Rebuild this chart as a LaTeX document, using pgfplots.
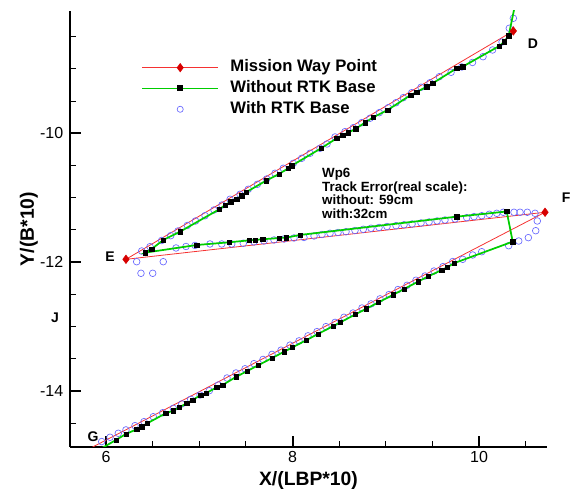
\documentclass[border=0pt]{standalone}
\usepackage{fontspec}
\setmainfont{Liberation Sans}
\usepackage{pgfplots}
\usepackage{pgfplotstable}
\pgfplotsset{compat=1.18}
\definecolor{wpred}{RGB}{215,0,0}
\definecolor{wpline}{RGB}{245,50,50}
\definecolor{trkgreen}{RGB}{0,205,0}
\definecolor{rtkblue}{RGB}{105,105,255}

% without RTK base (track, in path order)
\pgfplotstableread{
x      y
10.386 -8.009
10.318 -8.485
10.271 -8.578
10.218 -8.645
9.825  -8.966
9.761  -8.991
9.503  -9.224
9.439  -9.277
9.332  -9.359
9.268  -9.406
9.021  -9.638
8.866  -9.752
8.777  -9.835
8.678  -9.929
8.598  -9.991
8.538  -10.026
8.474  -10.078
8.306  -10.233
7.991  -10.503
7.955  -10.543
7.855  -10.632
7.716  -10.736
7.501  -10.916
7.455  -10.968
7.402  -11.020
7.337  -11.062
7.279  -11.113
7.215  -11.180
6.794  -11.527
6.614  -11.656
6.490  -11.796
6.418  -11.853
6.973  -11.734
7.322  -11.692
7.537  -11.661
7.598  -11.656
7.680  -11.645
7.861  -11.625
7.930  -11.620
8.080  -11.578
9.761  -11.294
10.297 -11.214
10.361 -11.682
9.732  -12.016
9.660  -12.080
9.600  -12.122
9.453  -12.223
9.346  -12.303
9.196  -12.417
9.078  -12.507
8.917  -12.628
8.788  -12.725
8.670  -12.814
8.509  -12.937
8.434  -12.994
8.273  -13.115
8.145  -13.213
7.995  -13.326
7.909  -13.391
7.780  -13.489
7.630  -13.602
7.512  -13.692
7.394  -13.781
7.251  -13.907
7.187  -13.942
7.072  -14.035
7.016  -14.062
6.930  -14.139
6.865  -14.191
6.786  -14.253
6.722  -14.305
6.640  -14.346
6.443  -14.501
6.383  -14.554
6.329  -14.594
6.214  -14.667
6.107  -14.760
5.936  -14.904
}\withoutrtk

% with RTK base
\pgfplotstableread{
x      y
6.383  -11.827
6.472  -11.760
6.597  -11.664
6.694  -11.589
6.772  -11.516
6.872  -11.431
6.960  -11.361
7.062  -11.279
7.158  -11.190
7.244  -11.113
7.330  -11.024
7.437  -10.947
7.526  -10.869
7.623  -10.792
7.723  -10.709
7.812  -10.621
7.901  -10.543
8.009  -10.466
8.099  -10.388
8.188  -10.310
8.295  -10.233
8.370  -10.166
8.456  -10.057
8.563  -9.975
8.652  -9.913
8.742  -9.835
8.831  -9.767
8.931  -9.680
9.027  -9.603
9.110  -9.525
9.188  -9.447
9.278  -9.370
9.378  -9.286
9.475  -9.215
9.574  -9.122
9.700  -9.053
9.815  -8.971
9.930  -8.901
10.043 -8.811
10.145 -8.707
10.247 -8.583
10.325 -8.370
10.368 -8.215
6.329  -11.993
6.375  -12.173
6.501  -12.173
6.614  -11.993
6.751  -11.780
6.858  -11.757
6.954  -11.741
7.115  -11.718
7.241  -11.718
7.348  -11.718
7.472  -11.707
7.587  -11.687
7.694  -11.672
7.802  -11.656
7.909  -11.641
8.016  -11.625
8.123  -11.617
8.231  -11.594
8.316  -11.571
8.402  -11.552
8.488  -11.540
8.574  -11.527
8.670  -11.509
8.759  -11.490
8.842  -11.474
8.928  -11.462
9.013  -11.447
9.110  -11.434
9.196  -11.420
9.282  -11.408
9.378  -11.392
9.464  -11.377
9.550  -11.361
9.635  -11.346
9.743  -11.330
9.868  -11.310
9.946  -11.294
10.029 -11.279
10.110 -11.257
10.190 -11.242
10.261 -11.226
10.375 -11.226
10.440 -11.226
10.518 -11.226
10.601 -11.242
10.625 -11.361
10.608 -11.512
10.529 -11.620
10.426 -11.672
10.318 -11.745
10.029 -11.838
9.932  -11.889
9.825  -11.956
9.718  -11.991
9.614  -12.070
9.517  -12.138
9.421  -12.215
9.324  -12.281
9.228  -12.360
9.131  -12.425
9.035  -12.503
8.938  -12.570
8.842  -12.648
8.745  -12.712
8.649  -12.790
8.552  -12.856
8.456  -12.935
8.359  -13.001
8.263  -13.078
8.166  -13.144
8.070  -13.222
7.973  -13.288
7.877  -13.366
7.780  -13.432
7.684  -13.510
7.587  -13.576
7.491  -13.655
7.394  -13.720
7.298  -13.798
7.204  -13.907
7.108  -13.995
7.008  -14.062
6.908  -14.129
6.812  -14.201
6.722  -14.268
6.608  -14.337
6.507  -14.399
6.408  -14.476
6.311  -14.538
6.214  -14.604
6.132  -14.656
6.043  -14.718
5.954  -14.785
}\withrtk

\begin{document}
\begin{tikzpicture}
\useasboundingbox (-52.5pt,-33pt) rectangle (381pt,335.25pt);
\begin{axis}[
  at={(0,0)}, anchor=south west,
  scale only axis, width=357.75pt, height=327pt,
  xmin=5.614, xmax=10.729, ymin=-14.869, ymax=-8.102,
  axis x line=bottom, axis y line=left,
  axis line style={-, line width=1.5pt},
  clip mode=individual,
  xtick={6,8,10}, ytick={-14,-12,-10},
  minor xtick={6.5,7,7.5,8.5,9,9.5,10.5},
  minor ytick={-14.5,-13.5,-13,-12.5,-11.5,-11,-10.5,-9.5,-9,-8.5},
  tick align=inside,
  major tick length=8pt, minor tick length=4.5pt,
  major tick style={line width=1.5pt, black},
  minor tick style={line width=0.75pt, black},
  tick label style={font=\fontsize{12}{14}\selectfont},
  /pgf/number format/assume math mode=true,
  yticklabel style={xshift=-1.5pt},
  xlabel={X/(LBP*10)}, ylabel={Y/(B*10)},
  xlabel style={font=\fontsize{14.5}{16}\selectfont\bfseries,
    at={(axis description cs:0.5,-0.076)}, anchor=center},
  ylabel style={font=\fontsize{14.5}{16}\selectfont\bfseries,
    at={(axis description cs:-0.086,0.5)}, anchor=center},
  legend image code/.code={\draw[mark repeat=2,mark phase=2,#1]
    plot coordinates {(0pt,0pt) (28.5pt,0pt) (57pt,0pt)};
    \path (64pt,0pt);},
  legend cell align=left,
  legend style={draw=none, fill=none, inner sep=0pt,
    at={(axis description cs:0.149,0.892)}, anchor=north west,
    font=\fontsize{12.5}{14}\selectfont\bfseries,
    nodes={inner sep=1.5pt, text height=8.5pt, text depth=2.5pt},
    row sep=1.6pt},
]
\addlegendimage{wpline, line width=0.6pt, mark=diamond*, mark size=3pt,
  mark options={fill=wpred, draw=wpred}}
\addlegendentry{Mission Way Point}
\addlegendimage{trkgreen, line width=1.3pt, mark=square*, mark size=1.6pt,
  mark options={fill=black, draw=black}}
\addlegendentry{Without RTK Base}
\addlegendimage{only marks, rtkblue, mark=o, mark size=2.3pt,
  mark options={line width=0.5pt}}
\addlegendentry{With RTK Base}

% mission way points D-E-F-G
\addplot[wpline, line width=0.6pt, forget plot] coordinates {
  (10.368,-8.412) (6.214,-11.956) (10.708,-11.226) (5.775,-14.931)};
% with RTK base
\addplot[only marks, rtkblue, mark=o, mark size=2.5pt,
  mark options={line width=0.5pt}, forget plot] table {\withrtk};
% without RTK base
\addplot[trkgreen, line width=1.3pt, forget plot] table {\withoutrtk};
\addplot[only marks, mark=square*, mark size=1.6pt, black, forget plot,
  restrict y to domain=-14.86:-8.11] table {\withoutrtk};
\addplot[only marks, wpred, mark=diamond*, mark size=3.2pt, forget plot]
  coordinates {(10.368,-8.412) (6.214,-11.956) (10.708,-11.226)};

\begin{scope}[font=\fontsize{10.5}{12}\selectfont\bfseries]
\node at (axis cs:10.579,-8.614) {D};
\node at (axis cs:6.043,-11.920) {E};
\node at (axis cs:10.933,-11.004) {F};
\node at (axis cs:5.861,-14.714) {G};
\node at (axis cs:5.453,-12.867) {J};
\end{scope}
\node[anchor=north west, align=left, inner sep=0pt,
  font=\fontsize{10}{10.2}\selectfont\bfseries] at (axis cs:8.316,-10.539)
  {Wp6\\Track Error(real scale):\\without: 59cm\\with:32cm};
\end{axis}
\end{tikzpicture}
\end{document}
